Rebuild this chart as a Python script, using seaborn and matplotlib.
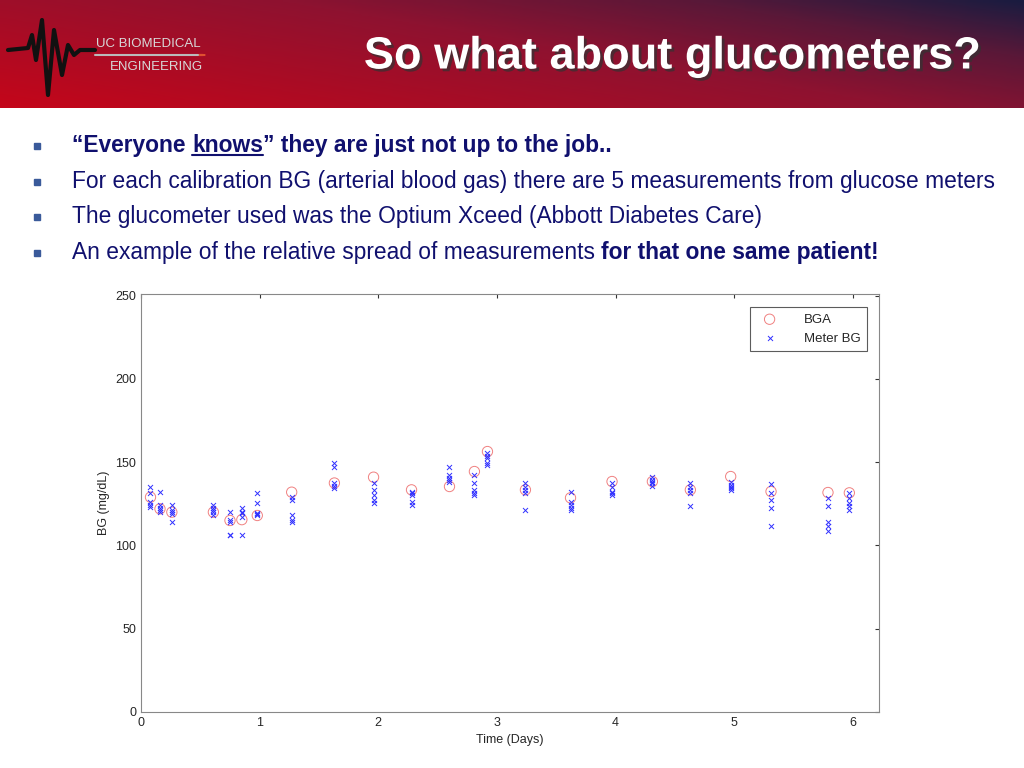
import numpy as np
import pandas as pd
import matplotlib
matplotlib.use('Agg')
import matplotlib.pyplot as plt
import matplotlib.patheffects as pe
from matplotlib.colors import LinearSegmentedColormap
from matplotlib.patches import Rectangle, Circle
import seaborn as sns

# dados
dias = [0.08, 0.16, 0.26, 0.61, 0.75, 0.85, 0.98, 1.27, 1.63, 1.96, 2.28, 2.60,
        2.81, 2.92, 3.24, 3.62, 3.97, 4.31, 4.63, 4.97, 5.31, 5.79, 5.97]
bga = [129, 122, 120, 120, 115, 115.5, 118, 132, 137.5, 141, 133.4, 135.4,
       144.4, 156.4, 133.4, 128.6, 138.4, 138.4, 133.4, 141.4, 132.4, 131.8, 131.6]
medidor = [
    [135, 131.6, 126, 124, 123],
    [132, 124, 122.6, 121, 120],
    [124, 121, 120, 119, 114],
    [124, 122.6, 121, 120, 118.4],
    [120, 115.4, 114, 106, 106],
    [122.6, 120, 119.6, 117, 106],
    [131.6, 125.6, 119.6, 118.6, 118],
    [129, 127.4, 118, 115, 114],
    [149.6, 147.4, 137.6, 136, 134.6],
    [137.6, 133.4, 130.4, 127.4, 125.6],
    [132.4, 131.4, 130.4, 126.4, 124.4],
    [147.4, 142.4, 140.6, 139.4, 138.4],
    [142.4, 137.6, 133.4, 131.4, 130.4],
    [155.6, 153.8, 152.6, 149.8, 148.4],
    [137.6, 135.4, 133.4, 131.6, 121.4],
    [132.4, 126.4, 124.4, 122.6, 121.4],
    [137.6, 135.4, 132.4, 131.4, 130.4],
    [141.4, 139.4, 138.4, 137.6, 135.8],
    [137.6, 135.4, 133.4, 131.6, 123.4],
    [138.4, 136.4, 135.4, 134.6, 133.4],
    [137, 131.6, 127.4, 122.6, 111.4],
    [128.6, 123.4, 113.8, 111.4, 108.4],
    [131.6, 128.6, 125.6, 123.4, 121.4],
]

df_bga = pd.DataFrame({'dias': dias, 'bg': bga})
df_med = pd.DataFrame({'dias': np.repeat(dias, 5),
                       'bg': np.concatenate(medidor)})

W, H = 1024, 768
sns.set_style('white')
plt.rcParams['font.family'] = ['Liberation Sans', 'DejaVu Sans']

fig = plt.figure(figsize=(W / 100, H / 100), dpi=100)


def fx(px):
    return px / W


def fy(py):
    return 1 - py / H


# Cabecalho com degrade
cab = fig.add_axes([0, fy(108), 1, 108 / H])
gx, gy = np.meshgrid(np.linspace(0, 1, 300), np.linspace(0, 1, 40))
grad = 0.62 * gx + 0.38 * gy
cmap = LinearSegmentedColormap.from_list(
    'cab', [(0, '#c4061a'), (0.55, '#8e1230'), (0.8, '#5a1838'), (1, '#1a1c40')])
cab.imshow(grad, cmap=cmap, aspect='auto', origin='lower', extent=[0, 1, 0, 1])
cab.set_xlim(0, 1)
cab.set_ylim(0, 1)
cab.axis('off')

# logo
ecg_x = np.array([8, 28, 32, 36, 42, 48, 54, 62, 68, 74, 80, 95]) / W
ecg_y = 1 - np.array([50, 48, 35, 60, 20, 95, 30, 75, 45, 55, 50, 50]) / 108
cab.plot(ecg_x, ecg_y, color='#111111', lw=3)
cab.plot([95 / W, 198 / W], [1 - 55 / 108] * 2, color='#bbbbbb', lw=1.5)
cab.add_patch(Circle((201 / W, 1 - 55 / 108), 0.004, color='#e05030',
                     transform=cab.transData))
fig.text(fx(96), fy(44), 'UC BIOMEDICAL', color='#d8d8d8', fontsize=9.5,
         va='center', ha='left')
fig.text(fx(110), fy(67), 'ENGINEERING', color='#d8d8d8', fontsize=9.5,
         va='center', ha='left')

fig.text(fx(980), fy(57), 'So what about glucometers?', color='white',
         fontsize=32.5, fontweight='bold', ha='right', va='center',
         path_effects=[pe.SimplePatchShadow(offset=(2, -2), alpha=0.7,
                                            shadow_rgbFace='#333333'),
                       pe.Normal()])

# Marcadores de lista e texto
azul_txt = '#10106e'
renderer = fig.canvas.get_renderer()
linhas_y = [152, 188, 223, 259]
for yb in linhas_y:
    fig.patches.append(Rectangle((fx(34), fy(yb - 3)), 6 / W, 6 / H,
                                 color='#3a5a9a', transform=fig.transFigure))

fs = 16.4


def trecho(x, yb, s, peso='normal', sub=False):
    t = fig.text(fx(x), fy(yb), s, fontsize=fs, fontweight=peso,
                 color=azul_txt, ha='left', va='baseline')
    bb = t.get_window_extent(renderer)
    if sub:
        fig.lines.append(plt.Line2D([bb.x0 / W, bb.x1 / W],
                                    [fy(yb + 3)] * 2, color=azul_txt, lw=1.5,
                                    transform=fig.transFigure))
    return bb.x1


x = trecho(72, linhas_y[0], '\u201cEveryone ', 'bold')
x = trecho(x, linhas_y[0], 'knows', 'bold', sub=True)
trecho(x, linhas_y[0], '\u201d they are just not up to the job..', 'bold')
trecho(72, linhas_y[1], 'For each calibration BG (arterial blood gas) there are '
       '5 measurements from glucose meters')
trecho(72, linhas_y[2], 'The glucometer used was the Optium Xceed '
       '(Abbott Diabetes Care)')
x = trecho(72, linhas_y[3], 'An example of the relative spread of measurements ')
trecho(x, linhas_y[3], 'for that one same patient!', 'bold')

# Grafico
ax = fig.add_axes([fx(141), fy(712), (879 - 141) / W, (712 - 294) / H])
sns.scatterplot(data=df_bga, x='dias', y='bg', ax=ax, marker='o',
                facecolor='none', edgecolor='#f08080', linewidth=0.7, s=55,
                label='BGA')
sns.scatterplot(data=df_med, x='dias', y='bg', ax=ax, marker='x',
                color='#3030ff', linewidth=0.7, s=13, label='Meter BG')
ax.set_xlim(0, 6.22)
ax.set_ylim(0, 251)
ax.set_xticks(range(0, 7))
ax.set_yticks(range(0, 251, 50))
ax.set_xlabel('Time (Days)', fontsize=9)
ax.set_ylabel('BG (mg/dL)', fontsize=9)
ax.tick_params(direction='in', length=3, labelsize=9, top=True, right=True,
               color='#333333')
for sp in ax.spines.values():
    sp.set_color('#888888')
    sp.set_linewidth(0.8)
leg = ax.legend(loc='upper right', fontsize=9.5, frameon=True, fancybox=False,
                edgecolor='#333333', borderpad=0.5, handletextpad=1.6,
                bbox_to_anchor=(0.993, 0.985))
leg.get_frame().set_linewidth(0.8)

fig.savefig('out.png', dpi=100)
